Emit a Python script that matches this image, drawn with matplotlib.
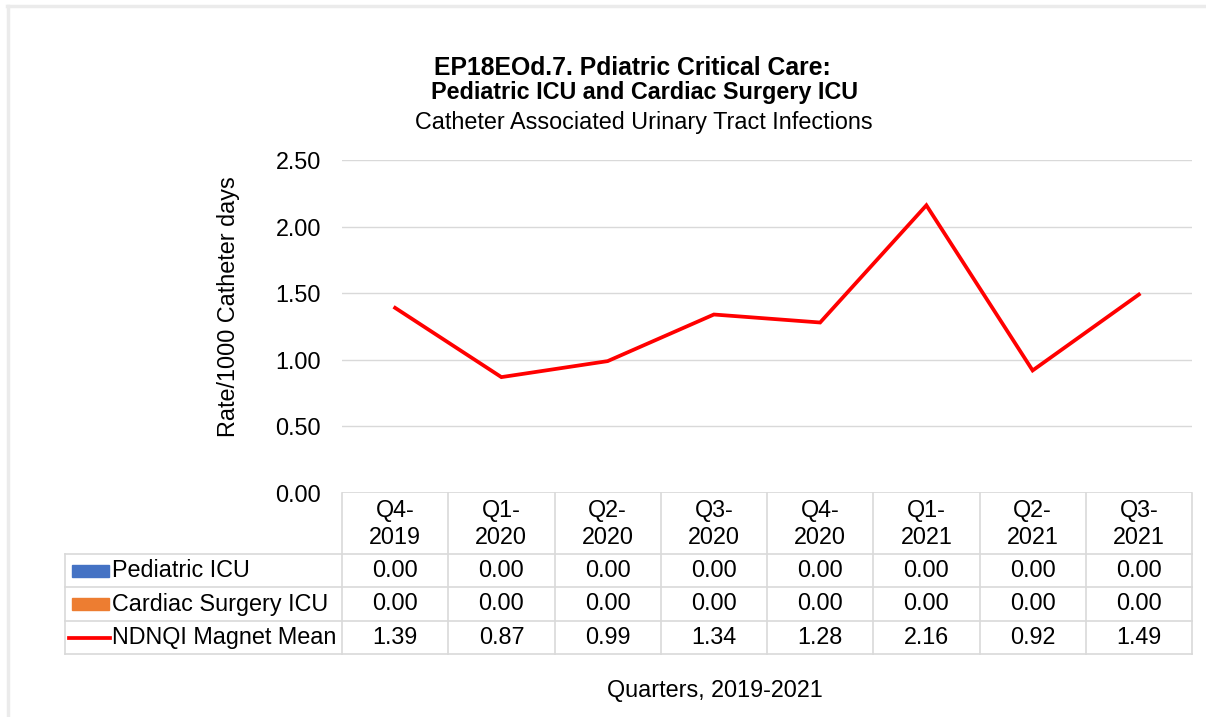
import matplotlib.pyplot as plt
from matplotlib.transforms import blended_transform_factory
from matplotlib.patches import Rectangle
from matplotlib.lines import Line2D

plt.rcParams['font.family'] = ['Liberation Sans', 'DejaVu Sans']

quarters = ["Q4-\n2019", "Q1-\n2020", "Q2-\n2020", "Q3-\n2020",
            "Q4-\n2020", "Q1-\n2021", "Q2-\n2021", "Q3-\n2021"]
series_names = ["Pediatric ICU", "Cardiac Surgery ICU", "NDNQI Magnet Mean"]
pediatric_icu = [0.00, 0.00, 0.00, 0.00, 0.00, 0.00, 0.00, 0.00]
cardiac_icu = [0.00, 0.00, 0.00, 0.00, 0.00, 0.00, 0.00, 0.00]
magnet_mean = [1.39, 0.87, 0.99, 1.34, 1.28, 2.16, 0.92, 1.49]
yticks = [0.0, 0.5, 1.0, 1.5, 2.0, 2.5]

W, H = 1206, 717
fig = plt.figure(figsize=(W / 100, H / 100), dpi=100)

def fy(py):
    return 1 - py / H

def fx(px):
    return px / W

grid_c = "#d9d9d9"
blue = "#4472c4"
orange = "#ed7d31"
red = "#ff0000"
fs = 16.8

# outer chart border (only top and left visible)
fig.add_artist(Line2D([fx(7), fx(1206)], [fy(5.5), fy(5.5)], transform=fig.transFigure,
                      color="#ebebeb", lw=2.5))
fig.add_artist(Line2D([fx(7.5), fx(7.5)], [fy(5.5), fy(717)], transform=fig.transFigure,
                      color="#ebebeb", lw=2.5))

ax = fig.add_axes([fx(342), fy(493), fx(1192) - fx(342), fy(160) - fy(493)])
x = list(range(len(quarters)))
ax.plot(x, magnet_mean, color=red, lw=2.7, solid_joinstyle="miter")
ax.set_xlim(-0.5, len(quarters) - 0.5)
ax.set_ylim(0, 2.5)
ax.set_yticks(yticks)
ax.set_yticklabels([f"{v:.2f}" for v in yticks], fontsize=fs)
ax.set_xticks([])
ax.tick_params(axis="y", length=0, pad=15)
ax.grid(axis="y", color=grid_c, lw=1)
for s in ax.spines.values():
    s.set_visible(False)
ax.axhline(0, color=grid_c, lw=1.2)

fig.text(fx(228), fy(307), "Rate/1000 Catheter days", rotation=90, ha="center",
         va="center", fontsize=fs)

# titles
fig.text(fx(632), fy(68), "EP18EOd.7. Pdiatric Critical Care:", ha="center", va="center",
         fontsize=17.8, fontweight="bold")
fig.text(fx(645), fy(93), "Pediatric ICU and Cardiac Surgery ICU", ha="center", va="center",
         fontsize=16.8, fontweight="bold")
fig.text(fx(644), fy(122), "Catheter Associated Urinary Tract Infections", ha="center",
         va="center", fontsize=fs)

# data table
tr = blended_transform_factory(ax.transData, fig.transFigure)
row_edges = [493, 554, 587, 621, 654]
n = len(quarters)
for i in range(n + 1):
    fig.add_artist(Line2D([i - 0.5, i - 0.5], [fy(493), fy(654)], transform=tr,
                          color=grid_c, lw=1.2))
for py in row_edges[1:]:
    fig.add_artist(Line2D([fx(65), fx(1192)], [fy(py), fy(py)], transform=fig.transFigure,
                          color=grid_c, lw=1.2))
fig.add_artist(Line2D([fx(65), fx(65)], [fy(554), fy(654)], transform=fig.transFigure,
                      color=grid_c, lw=1.2))

for i, q in enumerate(quarters):
    fig.text(i, fy(524), q, transform=tr, ha="center", va="center", fontsize=fs,
             linespacing=1.22)

rows = [pediatric_icu, cardiac_icu, magnet_mean]
row_mid = [(row_edges[k + 1] + row_edges[k + 2]) / 2 for k in range(3)]
for vals, ym in zip(rows, row_mid):
    for i, v in enumerate(vals):
        fig.text(i, fy(ym), f"{v:.2f}", transform=tr, ha="center", va="center", fontsize=fs)

for name, ym in zip(series_names, row_mid):
    fig.text(fx(112), fy(ym), name, ha="left", va="center", fontsize=fs)

fig.patches.append(Rectangle((fx(72), fy(row_mid[0] + 6)), fx(37), fy(row_mid[0] - 6) - fy(row_mid[0] + 6),
                             transform=fig.transFigure, color=blue))
fig.patches.append(Rectangle((fx(72), fy(row_mid[1] + 6)), fx(37), fy(row_mid[1] - 6) - fy(row_mid[1] + 6),
                             transform=fig.transFigure, color=orange))
fig.add_artist(Line2D([fx(69), fx(110)], [fy(row_mid[2]), fy(row_mid[2])],
                      transform=fig.transFigure, color=red, lw=2.7))

fig.text(fx(715), fy(690), "Quarters, 2019-2021", ha="center", va="center", fontsize=fs)

fig.savefig("out.png", dpi=100)
